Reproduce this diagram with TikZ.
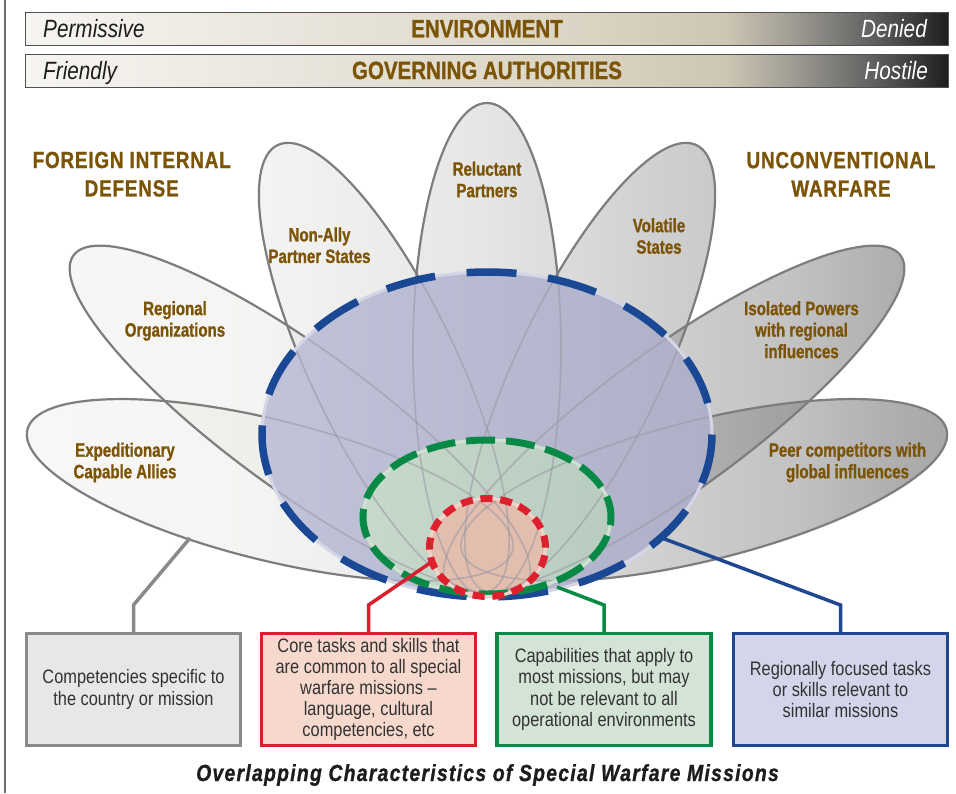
\documentclass[tikz,border=0pt]{standalone}
\usepackage{fontspec}
\setmainfont{Liberation Sans}
\newfontfamily\barfont[FakeStretch=0.83]{Liberation Sans}
\newfontfamily\barheadfont[FakeStretch=0.82,FakeBold=1]{Liberation Sans}
\newfontfamily\labfont[FakeStretch=0.78,FakeBold=1]{Liberation Sans}
\newfontfamily\boxfont[FakeStretch=0.84]{Liberation Sans}
\newfontfamily\titlefont[FakeStretch=0.81,LetterSpace=3.5,FakeBold=1]{Liberation Sans}
\newfontfamily\captfont[FakeStretch=0.83,LetterSpace=5.5,FakeBold=1]{Liberation Sans}

\definecolor{brownt}{RGB}{124,84,6}
\definecolor{petline}{RGB}{125,125,125}
\definecolor{bluec}{RGB}{26,72,148}
\definecolor{greenc}{RGB}{8,138,70}
\definecolor{redc}{RGB}{222,32,46}
\definecolor{blA}{RGB}{193,195,217}
\definecolor{blB}{RGB}{174,176,200}
\definecolor{grA}{RGB}{198,217,202}
\definecolor{grB}{RGB}{184,204,192}
\definecolor{redfill}{RGB}{226,190,175}
\definecolor{bluering}{RGB}{212,214,232}
\definecolor{greenring}{RGB}{206,226,210}
\definecolor{redring}{RGB}{242,212,202}
\definecolor{boxtext}{RGB}{50,50,50}
\definecolor{capc}{RGB}{28,28,28}
\definecolor{barline}{RGB}{80,80,80}
\definecolor{lborder}{RGB}{110,110,110}
\definecolor{gboxf}{RGB}{230,231,233}
\definecolor{gboxd}{RGB}{138,138,138}
\definecolor{rboxf}{RGB}{246,217,204}
\definecolor{rboxd}{RGB}{216,32,46}
\definecolor{grboxf}{RGB}{211,227,213}
\definecolor{grboxd}{RGB}{7,138,68}
\definecolor{bboxf}{RGB}{211,213,234}
\definecolor{bboxd}{RGB}{31,72,145}
\definecolor{innerl}{RGB}{150,150,160}

\definecolor{bs0}{RGB}{247,245,242}
\definecolor{bs1}{RGB}{233,229,220}
\definecolor{bs2}{RGB}{218,211,194}
\definecolor{bs3}{RGB}{205,198,180}
\definecolor{bs4}{RGB}{160,157,148}
\definecolor{bs5}{RGB}{95,95,95}
\definecolor{bs6}{RGB}{30,30,30}
\pgfdeclarehorizontalshading{barshade}{100bp}{color(0bp)=(bs0); color(25bp)=(bs0); color(40bp)=(bs1); color(56bp)=(bs2); color(63bp)=(bs3); color(66.5bp)=(bs4); color(71bp)=(bs5); color(75bp)=(bs6); color(100bp)=(bs6)}

\definecolor{pg0}{RGB}{241,240,235}
\definecolor{pg1}{RGB}{233,232,228}
\definecolor{pg2}{RGB}{199,199,197}
\definecolor{pg3}{RGB}{153,153,153}
\definecolor{pg4}{RGB}{119,119,119}
\definecolor{pg5}{RGB}{75,75,75}
\definecolor{pg6}{RGB}{60,60,60}
\pgfdeclarehorizontalshading{petalgrad}{100bp}{color(0bp)=(pg0); color(25bp)=(pg0); color(38.1bp)=(pg1); color(50.5bp)=(pg2); color(59bp)=(pg3); color(66.8bp)=(pg4); color(72.1bp)=(pg5); color(75bp)=(pg6); color(100bp)=(pg6)}

\tikzset{
 petalline/.style={draw=petline, line width=2.2pt},
 lab/.style={text=brownt, font=\labfont\bfseries\fontsize{19.3}{21.5}\selectfont, align=center, inner sep=0pt},
 ttl/.style={text=brownt, font=\titlefont\bfseries\fontsize{23.3}{28.4}\selectfont, align=center, inner sep=0pt},
 boxn/.style={minimum width=214pt, minimum height=112pt, line width=3.5pt, align=center, text=boxtext, font=\boxfont\fontsize{19.5}{21.2}\selectfont, inner sep=0pt},
 conn/.style={line width=3.5pt, line join=miter},
 barw/.style={font=\barfont\itshape\fontsize{25}{30}\selectfont, inner sep=0pt},
 barh/.style={font=\barheadfont\bfseries\fontsize{25}{30}\selectfont, text=brownt, inner sep=0pt},
 barrect/.style={shading=barshade, draw=barline, line width=1pt}
}

\newcommand\petallist{487/350/90/247/74, 384/368/-64.5/247/73, 590/368/64.5/247/73, 300/420/-36/280/71, 674/420/36/280/71, 270/490/-14/250/70, 704/490/14/250/70}

\begin{document}
\begin{tikzpicture}[x=1pt,y=-1pt]
\useasboundingbox (0,0) rectangle (956,793);
\fill[white] (0,0) rectangle (956,793);

% left border
\draw[lborder, line width=2pt] (5,0) -- (5,793);

% top bars
\shadedraw[barrect] (25,12) rectangle (948,45);
\shadedraw[barrect] (25,54) rectangle (948,87);
\node[barw, anchor=base west, text=capc] (perm) at (43,37.3) {Permissive};
\node[barh, anchor=base] (env) at (487,37.3) {ENVIRONMENT};
\node[barw, anchor=base east, text=white] (den) at (927,37.3) {Denied};
\node[barw, anchor=base west, text=capc] (fri) at (43,79) {Friendly};
\node[barh, anchor=base] (gov) at (487,79) {GOVERNING AUTHORITIES};
\node[barw, anchor=base east, text=white] (hos) at (928,79) {Hostile};

% petal fills
\foreach \cx/\cy/\th/\ra/\rb in \petallist {
  \begin{scope}
    \clip[rotate around={\th:(\cx,\cy)}] (\cx,\cy) ellipse [x radius=\ra pt, y radius=\rb pt];
    \shade[shading=petalgrad, opacity=0.45] (0,0) rectangle (956,793);
  \end{scope}
}
% petal outlines
\foreach \cx/\cy/\th/\ra/\rb in \petallist {
  \draw[petalline, rotate around={\th:(\cx,\cy)}] (\cx,\cy) ellipse [x radius=\ra pt, y radius=\rb pt];
}

% nested ellipses fills
\shade[left color=blA, right color=blB] (487,434.5) ellipse [x radius=225pt, y radius=162.5pt];
\shade[left color=grA, right color=grB] (487,517) ellipse [x radius=124pt, y radius=77pt];
\fill[redfill] (487.5,547.5) ellipse [x radius=58pt, y radius=49pt];

% petal outlines seen through
\begin{scope}
  \clip (487,434.5) ellipse [x radius=225pt, y radius=162.5pt];
  \foreach \cx/\cy/\th/\ra/\rb in \petallist {
    \draw[innerl, opacity=0.55, line width=1.6pt, rotate around={\th:(\cx,\cy)}] (\cx,\cy) ellipse [x radius=\ra pt, y radius=\rb pt];
  }
\end{scope}

% rings and dashed borders
\draw[bluering, line width=3pt] (487,434.5) ellipse [x radius=225pt, y radius=162.5pt];
\draw[bluec, line width=7.5pt, dash pattern=on 50pt off 31.7pt, dash phase=50pt] (487,434.5) ellipse [x radius=225pt, y radius=162.5pt];
\draw[greenring, line width=3pt] (487,517) ellipse [x radius=124pt, y radius=77pt];
\draw[greenc, line width=7pt, dash pattern=on 29pt off 11pt, dash phase=8pt] (487,517) ellipse [x radius=124pt, y radius=77pt];
\draw[redring, line width=3pt] (487.5,547.5) ellipse [x radius=58pt, y radius=49pt];
\draw[redc, line width=7pt, dash pattern=on 12pt off 7.8pt] (487.5,547.5) ellipse [x radius=58pt, y radius=49pt];

% petal labels
\node[lab] (reluct) at (487,179.5) {Reluctant\\Partners};
\node[lab] (nonally) at (319.5,245.3) {Non-Ally\\Partner States};
\node[lab] (volat) at (659,236) {Volatile\\States};
\node[lab] (region) at (175,320.9) {Regional\\Organizations};
\node[lab] (isol) at (801.5,329.7) {Isolated Powers\\with regional\\influences};
\node[lab] (exped) at (125,462.5) {Expeditionary\\Capable Allies};
\node[lab] (peer) at (847.5,462.5) {Peer competitors with\\global influences};

% titles
\node[ttl] (fid) at (131.7,174.2) {FOREIGN INTERNAL\\DEFENSE};
\node[ttl] (uw) at (841,174.2) {UNCONVENTIONAL\\WARFARE};

% boxes
\node[boxn, draw=gboxd, fill=gboxf] (gbox) at (133.5,689.5) {Competencies specific to\\the country or mission};
\node[boxn, draw=rboxd, fill=rboxf] (rbox) at (368.5,689.5) {Core tasks and skills that\\are common to all special\\warfare missions –\\language, cultural\\competencies, etc};
\node[boxn, draw=grboxd, fill=grboxf] (grbox) at (604,689.5) {Capabilities that apply to\\most missions, but may\\not be relevant to all\\operational environments};
\node[boxn, draw=bboxd, fill=bboxf] (bbox) at (840.5,689.5) {Regionally focused tasks\\or skills relevant to\\similar missions};

% connectors
\coordinate (gs) at (190,538);  \coordinate (gc) at (133.5,605);
\coordinate (rs) at (430,563);  \coordinate (rc) at (368.5,605);
\coordinate (grs) at (557,587); \coordinate (grc) at (604,605);
\coordinate (bs) at (662,538);  \coordinate (bc) at (840.5,605);
\draw[conn, gboxd] (gs) -- (gc) -- (gc |- gbox.north);
\draw[conn, rboxd] (rs) -- (rc) -- (rc |- rbox.north);
\draw[conn, grboxd] (grs) -- (grc) -- (grc |- grbox.north);
\draw[conn, bboxd] (bs) -- (bc) -- (bc |- bbox.north);

% caption
\node[font=\captfont\bfseries\itshape\fontsize{23.3}{28}\selectfont, text=capc, anchor=base, inner sep=0pt] (caption) at (487.5,781) {Overlapping Characteristics of Special Warfare Missions};
\end{tikzpicture}
\end{document}
